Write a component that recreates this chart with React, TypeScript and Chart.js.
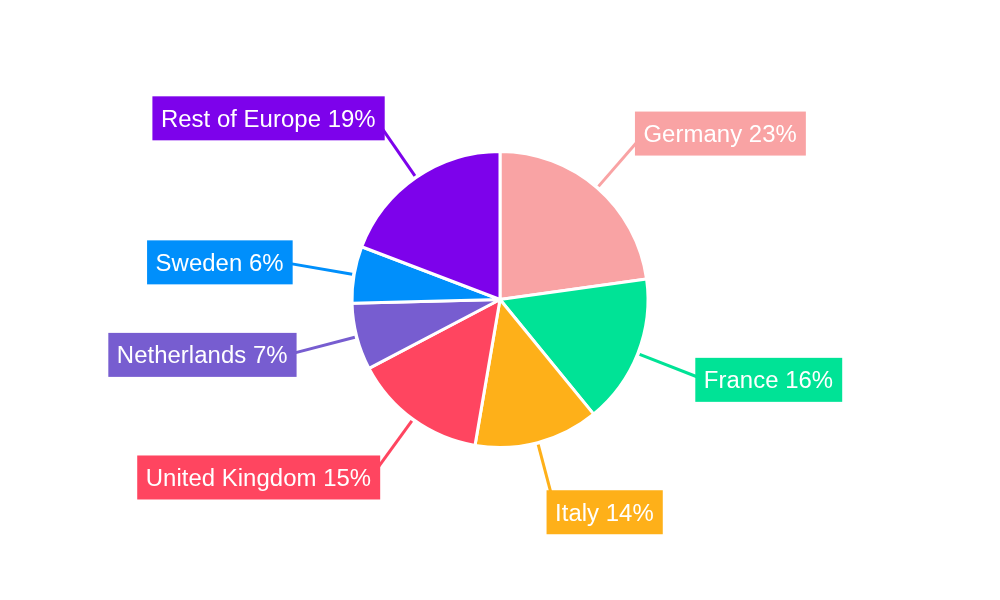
import React, { useEffect, useRef } from "react";
import { Chart, registerables } from "chart.js";

Chart.register(...registerables);

const categories = ["Germany", "France", "Italy", "United Kingdom", "Netherlands", "Sweden", "Rest of Europe"];
const shares = [22.8, 16.3, 13.6, 14.6, 7.3, 6.2, 19.2];
const colors = ["#F9A3A4", "#00E396", "#FEB019", "#FF4560", "#775DD0", "#008FFB", "#7D02EB"];

const FONT_SIZE = 24;
const SCALE = 10;

const labelPlugin = {
  id: "calloutLabels",
  afterDatasetsDraw(chart: any) {
    const ctx = chart.ctx;
    const meta = chart.getDatasetMeta(0);
    ctx.save();
    const bigFont = `${FONT_SIZE * SCALE}px "Liberation Sans", Arial, sans-serif`;
    meta.data.forEach((arc: any, i: number) => {
      const { x, y, startAngle, endAngle, outerRadius } = arc.getProps(
        ["x", "y", "startAngle", "endAngle", "outerRadius"],
        true
      );
      const mid = (startAngle + endAngle) / 2;
      const c = Math.cos(mid);
      const s = Math.sin(mid);
      const r0 = outerRadius + 2;
      const r1 = outerRadius + 61;
      const sx = x + c * r0;
      const sy = y + s * r0;
      const ax = x + c * r1;
      const ay = y + s * r1;
      const ex = x + c * (r1 + 8);
      const ey = y + s * (r1 + 8);

      const text = `${categories[i]} ${Math.round(shares[i])}%`;
      ctx.font = bigFont;
      const tw = ctx.measureText(text).width / SCALE;
      const padL = 8.5;
      const padR = 9;
      const bw = tw + padL + padR;
      const bh = 44;
      const inward = 9.5 - 11 * Math.abs(c);
      const edge = c >= 0 ? ax - inward : ax + inward;
      const left = c >= 0 ? edge : edge - bw;
      const cy = ay + s * 11;

      ctx.strokeStyle = colors[i];
      ctx.lineWidth = 3;
      ctx.beginPath();
      ctx.moveTo(sx, sy);
      ctx.lineTo(ex, ey);
      ctx.stroke();

      ctx.fillStyle = colors[i];
      ctx.fillRect(left, cy - bh / 2, bw, bh);

      ctx.save();
      ctx.translate(left + padL, cy + 8.5);
      ctx.scale(1 / SCALE, 1 / SCALE);
      ctx.fillStyle = "#ffffff";
      ctx.textBaseline = "alphabetic";
      ctx.textAlign = "left";
      ctx.fillText(text, 0, 0);
      ctx.restore();
    });
    ctx.restore();
  },
};

export default function App() {
  const ref = useRef<HTMLCanvasElement | null>(null);
  useEffect(() => {
    document.body.style.margin = "0";
    if (!ref.current) return;
    const chart = new Chart(ref.current, {
      type: "pie",
      data: {
        labels: categories,
        datasets: [
          {
            data: shares,
            backgroundColor: colors,
            borderColor: "#ffffff",
            borderWidth: 3,
          },
        ],
      },
      options: {
        animation: false,
        responsive: false,
        maintainAspectRatio: false,
        layout: { padding: { top: 150, bottom: 151, left: 0, right: 0 } },
        plugins: {
          legend: { display: false },
          tooltip: { enabled: false },
        },
      },
      plugins: [labelPlugin],
    });
    return () => chart.destroy();
  }, []);
  return (
    <div style={{ width: 1000, height: 600, background: "#ffffff" }}>
      <canvas ref={ref} width={1000} height={600} style={{ width: 1000, height: 600, display: "block" }} />
    </div>
  );
}
